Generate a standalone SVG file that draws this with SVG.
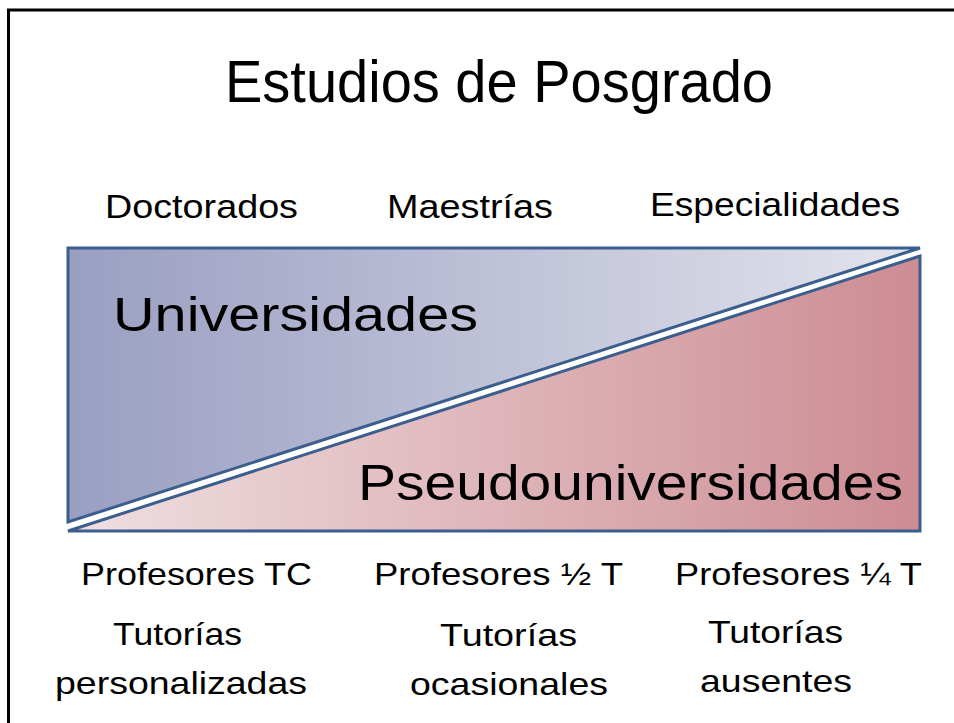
<svg xmlns="http://www.w3.org/2000/svg" width="954" height="723" viewBox="0 0 954 723">
<defs>
<linearGradient id="gU" x1="68" y1="0" x2="920" y2="0" gradientUnits="userSpaceOnUse">
<stop offset="0" stop-color="#9a9ec1"/>
<stop offset="1" stop-color="#e3e4ed"/>
</linearGradient>
<linearGradient id="gP" x1="68" y1="0" x2="920" y2="0" gradientUnits="userSpaceOnUse">
<stop offset="0" stop-color="#efdfe1"/>
<stop offset="1" stop-color="#cd8c93"/>
</linearGradient>
<style>
.t{font-family:"Liberation Sans",Arial,sans-serif;fill:#000}
.tri{stroke:#3b5e8e;stroke-width:3;stroke-linejoin:miter}
</style>
</defs>
<rect width="954" height="723" fill="#fff"/>
<rect x="8.5" y="10" width="960" height="730" fill="none" stroke="#000" stroke-width="3"/>
<g id="universidades">
<polygon class="tri" points="68,248 920,248 68,522" fill="url(#gU)"/>
<text class="t" x="113" y="331" font-size="49" textLength="365" lengthAdjust="spacingAndGlyphs">Universidades</text>
</g>
<g id="pseudouniversidades">
<polygon class="tri" points="68,531 920,256 920,531" fill="url(#gP)"/>
<text class="t" x="358" y="500" font-size="50" textLength="545" lengthAdjust="spacingAndGlyphs">Pseudouniversidades</text>
</g>
<g id="title">
<text class="t" x="225" y="102" font-size="59" textLength="548" lengthAdjust="spacingAndGlyphs">Estudios de Posgrado</text>
</g>
<g id="top-labels">
<text class="t" x="105" y="218" font-size="34" textLength="193" lengthAdjust="spacingAndGlyphs">Doctorados</text>
<text class="t" x="387" y="218" font-size="34" textLength="166" lengthAdjust="spacingAndGlyphs">Maestrías</text>
<text class="t" x="650" y="216" font-size="34" textLength="250" lengthAdjust="spacingAndGlyphs">Especialidades</text>
</g>
<g id="bottom-labels">
<text class="t" x="81" y="585" font-size="32" textLength="231" lengthAdjust="spacingAndGlyphs">Profesores TC</text>
<text class="t" x="374" y="585" font-size="32" textLength="249" lengthAdjust="spacingAndGlyphs">Profesores ½ T</text>
<text class="t" x="675" y="585" font-size="32" textLength="247" lengthAdjust="spacingAndGlyphs">Profesores ¼ T</text>
<text class="t" x="113" y="645" font-size="32" textLength="129" lengthAdjust="spacingAndGlyphs">Tutorías</text>
<text class="t" x="55" y="694" font-size="32" textLength="252" lengthAdjust="spacingAndGlyphs">personalizadas</text>
<text class="t" x="440" y="646" font-size="32" textLength="137" lengthAdjust="spacingAndGlyphs">Tutorías</text>
<text class="t" x="410" y="695" font-size="32" textLength="198" lengthAdjust="spacingAndGlyphs">ocasionales</text>
<text class="t" x="708" y="643" font-size="32" textLength="135" lengthAdjust="spacingAndGlyphs">Tutorías</text>
<text class="t" x="700" y="692" font-size="32" textLength="152" lengthAdjust="spacingAndGlyphs">ausentes</text>
</g>
</svg>
